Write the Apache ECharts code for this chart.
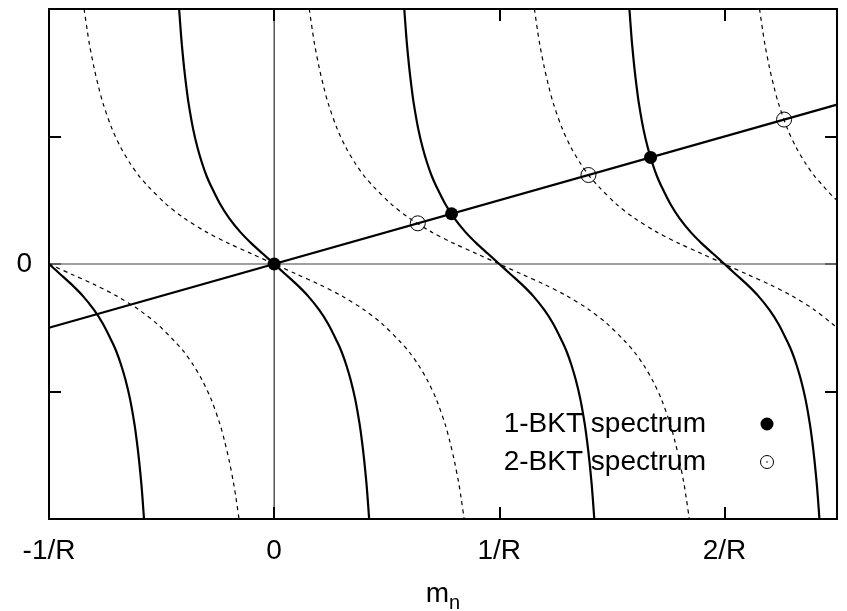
<!DOCTYPE html>
<html>
<head>
<meta charset="utf-8">
<script src="https://cdn.jsdelivr.net/npm/echarts@6/dist/echarts.min.js"></script>
<style>html,body{margin:0;padding:0;background:#fff;}#c{width:847px;height:611px;}</style>
</head>
<body>
<div id="c"></div>
<script>
// ---- data (x in units of 1/R) ----
const xTickValues = [-1, 0, 1, 2];
const xTickLabels = ['-1/R', '0', '1/R', '2/R'];
const yTickValues = [0];
const yTickLabels = ['0'];

const solidBranchM1 = [[-1,0],[-0.95,-0.08],[-0.90,-0.16],[-0.85,-0.25],[-0.80,-0.36],[-0.76,-0.47],[-0.72,-0.61],[-0.70,-0.69],[-0.68,-0.79],[-0.66,-0.91],[-0.64,-1.06],[-0.62,-1.26],[-0.61,-1.39],[-0.60,-1.54],[-0.59,-1.72],[-0.585,-1.83],[-0.578,-2.0]];
const solidBranch0 = [[-0.422,2.0],[-0.415,1.83],[-0.41,1.72],[-0.40,1.54],[-0.39,1.39],[-0.38,1.26],[-0.36,1.06],[-0.34,0.91],[-0.32,0.79],[-0.30,0.69],[-0.28,0.61],[-0.24,0.47],[-0.20,0.36],[-0.15,0.25],[-0.10,0.16],[-0.05,0.08],[0,0],[0.05,-0.08],[0.10,-0.16],[0.15,-0.25],[0.20,-0.36],[0.24,-0.47],[0.28,-0.61],[0.30,-0.69],[0.32,-0.79],[0.34,-0.91],[0.36,-1.06],[0.38,-1.26],[0.39,-1.39],[0.40,-1.54],[0.41,-1.72],[0.415,-1.83],[0.422,-2.0]];
const solidBranch1 = [[0.578,2.0],[0.585,1.83],[0.59,1.72],[0.60,1.54],[0.61,1.39],[0.62,1.26],[0.64,1.06],[0.66,0.91],[0.68,0.79],[0.70,0.69],[0.72,0.61],[0.76,0.47],[0.80,0.36],[0.85,0.25],[0.90,0.16],[0.95,0.08],[1,0],[1.05,-0.08],[1.10,-0.16],[1.15,-0.25],[1.20,-0.36],[1.24,-0.47],[1.28,-0.61],[1.30,-0.69],[1.32,-0.79],[1.34,-0.91],[1.36,-1.06],[1.38,-1.26],[1.39,-1.39],[1.40,-1.54],[1.41,-1.72],[1.415,-1.83],[1.422,-2.0]];
const solidBranch2 = [[1.578,2.0],[1.585,1.83],[1.59,1.72],[1.60,1.54],[1.61,1.39],[1.62,1.26],[1.64,1.06],[1.66,0.91],[1.68,0.79],[1.70,0.69],[1.72,0.61],[1.76,0.47],[1.80,0.36],[1.85,0.25],[1.90,0.16],[1.95,0.08],[2,0],[2.05,-0.08],[2.10,-0.16],[2.15,-0.25],[2.20,-0.36],[2.24,-0.47],[2.28,-0.61],[2.30,-0.69],[2.32,-0.79],[2.34,-0.91],[2.36,-1.06],[2.38,-1.26],[2.39,-1.39],[2.40,-1.54],[2.41,-1.72],[2.415,-1.83],[2.422,-2.0]];

const dashedBranchM1 = [[-1,0],[-0.90,-0.08],[-0.80,-0.16],[-0.70,-0.25],[-0.60,-0.36],[-0.52,-0.47],[-0.44,-0.61],[-0.40,-0.69],[-0.36,-0.79],[-0.32,-0.91],[-0.28,-1.06],[-0.24,-1.26],[-0.22,-1.39],[-0.20,-1.54],[-0.18,-1.72],[-0.17,-1.83],[-0.156,-2.0]];
const dashedBranch0 = [[-0.844,2.0],[-0.83,1.83],[-0.82,1.72],[-0.80,1.54],[-0.78,1.39],[-0.76,1.26],[-0.72,1.06],[-0.68,0.91],[-0.64,0.79],[-0.60,0.69],[-0.56,0.61],[-0.48,0.47],[-0.40,0.36],[-0.30,0.25],[-0.20,0.16],[-0.10,0.08],[0,0],[0.10,-0.08],[0.20,-0.16],[0.30,-0.25],[0.40,-0.36],[0.48,-0.47],[0.56,-0.61],[0.60,-0.69],[0.64,-0.79],[0.68,-0.91],[0.72,-1.06],[0.76,-1.26],[0.78,-1.39],[0.80,-1.54],[0.82,-1.72],[0.83,-1.83],[0.844,-2.0]];
const dashedBranch1 = [[0.156,2.0],[0.17,1.83],[0.18,1.72],[0.20,1.54],[0.22,1.39],[0.24,1.26],[0.28,1.06],[0.32,0.91],[0.36,0.79],[0.40,0.69],[0.44,0.61],[0.52,0.47],[0.60,0.36],[0.70,0.25],[0.80,0.16],[0.90,0.08],[1,0],[1.10,-0.08],[1.20,-0.16],[1.30,-0.25],[1.40,-0.36],[1.48,-0.47],[1.56,-0.61],[1.60,-0.69],[1.64,-0.79],[1.68,-0.91],[1.72,-1.06],[1.76,-1.26],[1.78,-1.39],[1.80,-1.54],[1.82,-1.72],[1.83,-1.83],[1.844,-2.0]];
const dashedBranch2 = [[1.156,2.0],[1.17,1.83],[1.18,1.72],[1.20,1.54],[1.22,1.39],[1.24,1.26],[1.28,1.06],[1.32,0.91],[1.36,0.79],[1.40,0.69],[1.44,0.61],[1.52,0.47],[1.60,0.36],[1.70,0.25],[1.80,0.16],[1.90,0.08],[2,0],[2.10,-0.08],[2.20,-0.16],[2.30,-0.25],[2.40,-0.36],[2.48,-0.47],[2.5,-0.5]];
const dashedBranch3 = [[2.156,2.0],[2.17,1.83],[2.18,1.72],[2.20,1.54],[2.22,1.39],[2.24,1.26],[2.28,1.06],[2.32,0.91],[2.36,0.79],[2.40,0.69],[2.44,0.61],[2.48,0.53],[2.5,0.5]];

const straightLine = [[-1,-0.5],[2.5,1.25]];
const spectrum1BKT = [[0,0],[0.788,0.394],[1.672,0.836]];
const spectrum2BKT = [[0.638,0.319],[1.396,0.698],[2.265,1.133]];
const zeroLineH = [[-1,0],[2.5,0]];
const zeroLineV = [[0,-2],[0,2]];

const legendLabels = ['1-BKT spectrum', '2-BKT spectrum'];

// ---- chart ----
const FONT = "'Liberation Sans', Arial, Helvetica, sans-serif";
const chart = echarts.init(document.getElementById('c'), null, {renderer: 'canvas'});

function xFmt(v) { const i = xTickValues.indexOf(v); return i >= 0 ? xTickLabels[i] : ''; }
function yFmt(v) { const i = yTickValues.indexOf(v); return i >= 0 ? yTickLabels[i] : ''; }

const tickStyle = {show: true, inside: true, length: 12, lineStyle: {color: '#000', width: 2}};
const noLine = {show: false, onZero: false};
const solidStyle = {color: '#000', width: 2.2};
const dashStyle = {color: '#000', width: 1.2, type: [4, 4]};

function lineSeries(data, style, smooth, z) {
  return {type: 'line', data: data, showSymbol: false, symbol: 'none', smooth: smooth,
    lineStyle: style, z: z, silent: true, animation: false, clip: true};
}

const option = {
  animation: false,
  backgroundColor: '#fff',
  grid: {left: 49, top: 9, width: 788, height: 510, containLabel: false, outerBoundsMode: 'none',
         show: true, borderColor: '#000', borderWidth: 2, backgroundColor: 'transparent', z: 10},
  xAxis: [
    {type: 'value', min: -1, max: 2.5, interval: 1, position: 'bottom',
     axisLine: noLine, axisTick: tickStyle, splitLine: {show: false},
     axisLabel: {formatter: xFmt, fontFamily: FONT, fontSize: 28, color: '#000', margin: 18},
     name: '{m|m}{n|n}', nameLocation: 'middle', nameGap: 56,
     nameTextStyle: {rich: {m: {fontFamily: FONT, fontSize: 28, color: '#000'}, n: {fontFamily: FONT, fontSize: 20, color: '#000', padding: [18, 0, 0, 0]}}}},
    {type: 'value', min: -1, max: 2.5, interval: 1, position: 'top',
     axisLine: noLine, axisTick: tickStyle, splitLine: {show: false}, axisLabel: {show: false}}
  ],
  yAxis: [
    {type: 'value', min: -2, max: 2, interval: 1, position: 'left',
     axisLine: noLine, axisTick: tickStyle, splitLine: {show: false},
     axisLabel: {formatter: yFmt, fontFamily: FONT, fontSize: 28, color: '#000', margin: 17}},
    {type: 'value', min: -2, max: 2, interval: 1, position: 'right',
     axisLine: noLine, axisTick: tickStyle, splitLine: {show: false}, axisLabel: {show: false}}
  ],
  series: [
    lineSeries(zeroLineH, {color: '#808080', width: 1.5}, false, 1),
    lineSeries(zeroLineV, {color: '#000', width: 1}, false, 1),
    lineSeries(dashedBranchM1, dashStyle, 0.3, 2),
    lineSeries(dashedBranch0, dashStyle, 0.3, 2),
    lineSeries(dashedBranch1, dashStyle, 0.3, 2),
    lineSeries(dashedBranch2, dashStyle, 0.3, 2),
    lineSeries(dashedBranch3, dashStyle, 0.3, 2),
    lineSeries(solidBranchM1, solidStyle, 0.3, 3),
    lineSeries(solidBranch0, solidStyle, 0.3, 3),
    lineSeries(solidBranch1, solidStyle, 0.3, 3),
    lineSeries(solidBranch2, solidStyle, 0.3, 3),
    lineSeries(straightLine, solidStyle, false, 3),
    {type: 'scatter', name: legendLabels[0], data: spectrum1BKT, symbol: 'circle', symbolSize: 13,
     itemStyle: {color: '#000', opacity: 1}, z: 5, silent: true},
    {type: 'scatter', name: legendLabels[1], data: spectrum2BKT, symbol: 'circle', symbolSize: 15,
     itemStyle: {color: 'rgba(0,0,0,0)', borderColor: '#000', borderWidth: 1, opacity: 1}, z: 5, silent: true}
  ],
  graphic: [
    {type: 'text', x: 706, y: 424, z: 20,
     style: {text: legendLabels[0], font: '28px ' + FONT, fill: '#000', textAlign: 'right', textVerticalAlign: 'middle'}},
    {type: 'text', x: 706, y: 462, z: 20,
     style: {text: legendLabels[1], font: '28px ' + FONT, fill: '#000', textAlign: 'right', textVerticalAlign: 'middle'}},
    {type: 'circle', shape: {cx: 767, cy: 424, r: 6.5}, style: {fill: '#000'}, z: 20},
    {type: 'circle', shape: {cx: 767, cy: 462, r: 6.5}, style: {fill: 'none', stroke: '#000', lineWidth: 1}, z: 20},
    {type: 'circle', shape: {cx: 767, cy: 462, r: 0.8}, style: {fill: '#000'}, z: 20}
  ]
};
chart.setOption(option);
</script>
</body>
</html>
